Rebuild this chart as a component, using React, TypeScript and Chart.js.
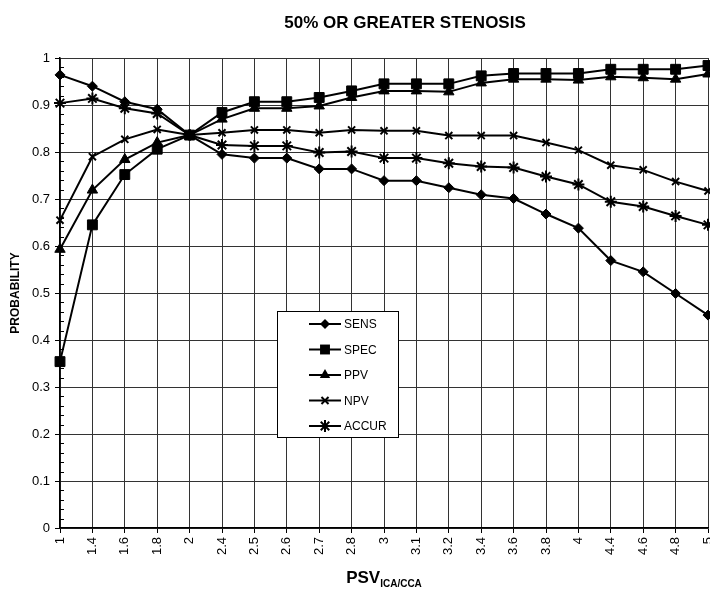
import React, { useEffect, useRef } from 'react';
import { Chart, registerables } from 'chart.js';

Chart.register(...registerables);

const chartTitle = '50% OR GREATER STENOSIS';
const yTitle = 'PROBABILITY';
const xTitleMain = 'PSV';
const xTitleSub = 'ICA/CCA';

const categories = ['1', '1.4', '1.6', '1.8', '2', '2.4', '2.5', '2.6', '2.7', '2.8', '3', '3.1', '3.2', '3.4', '3.6', '3.8', '4', '4.4', '4.6', '4.8', '5'];

const sens = [0.964, 0.940, 0.907, 0.891, 0.836, 0.795, 0.787, 0.787, 0.764, 0.764, 0.739, 0.739, 0.724, 0.709, 0.701, 0.668, 0.638, 0.569, 0.545, 0.499, 0.453];
const spec = [0.354, 0.645, 0.752, 0.806, 0.836, 0.884, 0.907, 0.907, 0.916, 0.930, 0.945, 0.945, 0.945, 0.962, 0.967, 0.967, 0.967, 0.976, 0.976, 0.976, 0.984];
const ppv = [0.593, 0.719, 0.784, 0.820, 0.836, 0.870, 0.893, 0.893, 0.898, 0.916, 0.930, 0.930, 0.928, 0.947, 0.955, 0.955, 0.953, 0.960, 0.958, 0.955, 0.966];
const npv = [0.655, 0.790, 0.827, 0.848, 0.836, 0.841, 0.847, 0.847, 0.841, 0.847, 0.845, 0.845, 0.835, 0.835, 0.835, 0.820, 0.804, 0.772, 0.762, 0.737, 0.717];
const accur = [0.904, 0.914, 0.893, 0.882, 0.836, 0.815, 0.813, 0.813, 0.799, 0.801, 0.787, 0.787, 0.776, 0.769, 0.767, 0.748, 0.731, 0.694, 0.684, 0.664, 0.645];

const seriesLabels = ['SENS', 'SPEC', 'PPV', 'NPV', 'ACCUR'];
const seriesStyles = ['rectRot', 'rect', 'triangle', 'crossRot', 'star'];
const seriesRadius = [5, 7, 6, 5, 6];

const yTicks = [0, 0.1, 0.2, 0.3, 0.4, 0.5, 0.6, 0.7, 0.8, 0.9, 1];

const FONT = '"Liberation Sans", Arial, Helvetica, sans-serif';

function drawMarker(ctx: CanvasRenderingContext2D, style: string, x: number, y: number, r: number) {
  ctx.beginPath();
  if (style === 'rectRot') {
    ctx.moveTo(x, y - r);
    ctx.lineTo(x + r, y);
    ctx.lineTo(x, y + r);
    ctx.lineTo(x - r, y);
    ctx.closePath();
    ctx.fill();
  } else if (style === 'rect') {
    const s = Math.SQRT1_2 * r;
    ctx.rect(x - s, y - s, 2 * s, 2 * s);
    ctx.fill();
  } else if (style === 'triangle') {
    const a = (2 * Math.PI) / 3;
    ctx.moveTo(x, y - r);
    ctx.lineTo(x + Math.sin(a) * r, y - Math.cos(a) * r);
    ctx.lineTo(x + Math.sin(2 * a) * r, y - Math.cos(2 * a) * r);
    ctx.closePath();
    ctx.fill();
  } else {
    const d = Math.SQRT1_2 * r;
    ctx.moveTo(x - d, y - d);
    ctx.lineTo(x + d, y + d);
    ctx.moveTo(x - d, y + d);
    ctx.lineTo(x + d, y - d);
    if (style === 'star') {
      ctx.moveTo(x, y - r);
      ctx.lineTo(x, y + r);
      ctx.moveTo(x - r, y);
      ctx.lineTo(x + r, y);
    }
    ctx.stroke();
  }
}

const overlayPlugin = {
  id: 'overlay',
  afterDraw(chart: any) {
    const { ctx, chartArea, scales } = chart;
    const ys = scales.y;
    ctx.save();
    ctx.strokeStyle = '#000';
    ctx.fillStyle = '#000';
    ctx.lineWidth = 1;
    // minor ticks on the y axis
    for (let i = 1; i < 50; i++) {
      if (i % 5 === 0) continue;
      const py = Math.round(ys.getPixelForValue(i / 50)) + 0.5;
      ctx.beginPath();
      ctx.moveTo(chartArea.left, py);
      ctx.lineTo(chartArea.left + 4, py);
      ctx.stroke();
    }
    // chart title
    ctx.font = `bold 17px ${FONT}`;
    ctx.textAlign = 'center';
    ctx.textBaseline = 'alphabetic';
    ctx.fillText(chartTitle, (chartArea.left + chartArea.right) / 2 + 21, 28);
    // x axis title with subscript
    const cx = (chartArea.left + chartArea.right) / 2;
    ctx.font = `bold 17px ${FONT}`;
    const w1 = ctx.measureText(xTitleMain).width;
    ctx.font = `bold 10px ${FONT}`;
    const w2 = ctx.measureText(xTitleSub).width;
    const sx = cx - (w1 + w2) / 2;
    ctx.textAlign = 'left';
    ctx.font = `bold 17px ${FONT}`;
    ctx.fillText(xTitleMain, sx, 583);
    ctx.font = `bold 10px ${FONT}`;
    ctx.fillText(xTitleSub, sx + w1, 587);
    // legend box
    const lx = 277, ly = 311, lw = 121, lh = 126;
    ctx.fillStyle = '#fff';
    ctx.fillRect(lx, ly, lw, lh);
    ctx.strokeStyle = '#000';
    ctx.lineWidth = 1;
    ctx.strokeRect(lx + 0.5, ly + 0.5, lw, lh);
    ctx.fillStyle = '#000';
    ctx.font = `12px ${FONT}`;
    ctx.textBaseline = 'middle';
    chart.data.datasets.forEach((ds: any, i: number) => {
      const ey = ly + 13 + i * 25.5;
      ctx.lineWidth = 2;
      ctx.beginPath();
      ctx.moveTo(lx + 32, ey);
      ctx.lineTo(lx + 64, ey);
      ctx.stroke();
      drawMarker(ctx, ds.pointStyle, lx + 48, ey, ds.pointRadius);
      ctx.fillText(ds.label, lx + 67, ey + 1);
    });
    ctx.restore();
  },
};

export default function App() {
  const canvasRef = useRef<HTMLCanvasElement | null>(null);

  useEffect(() => {
    const canvas = canvasRef.current;
    if (!canvas) return;
    const seriesData = [sens, spec, ppv, npv, accur];
    const chart = new Chart(canvas, {
      type: 'line',
      data: {
        labels: categories,
        datasets: seriesData.map((d, i) => ({
          label: seriesLabels[i],
          data: d,
          borderColor: '#000',
          backgroundColor: '#000',
          borderWidth: 2,
          pointStyle: seriesStyles[i] as any,
          pointRadius: seriesRadius[i],
          pointBackgroundColor: '#000',
          pointBorderColor: '#000',
          pointBorderWidth: seriesStyles[i] === 'crossRot' || seriesStyles[i] === 'star' ? 2 : 1,
          tension: 0,
          fill: false,
          clip: false as any,
        })),
      },
      options: {
        animation: false,
        responsive: false,
        maintainAspectRatio: false,
        layout: { autoPadding: false, padding: { top: 58, right: 2, bottom: 0, left: 0 } },
        plugins: {
          legend: { display: false },
          title: { display: false },
          tooltip: { enabled: false },
        },
        scales: {
          x: {
            type: 'category',
            offset: false,
            grid: { color: '#333', lineWidth: 1, tickLength: 5, tickColor: '#000' },
            border: { display: true, color: '#000', width: 1.5 },
            ticks: {
              color: '#000',
              font: { family: FONT, size: 13 },
              minRotation: 90,
              maxRotation: 90,
              autoSkip: false,
              padding: 4,
            },
            afterFit: (s: any) => {
              s.height = 62;
              s.paddingRight = 0;
              s.paddingLeft = 0;
            },
          },
          y: {
            min: 0,
            max: 1,
            grid: { color: '#333', lineWidth: 1, tickLength: 5, tickColor: '#000' },
            border: { display: true, color: '#000', width: 1.5 },
            afterBuildTicks: (s: any) => {
              s.ticks = yTicks.map((v) => ({ value: v }));
            },
            ticks: {
              color: '#000',
              font: { family: FONT, size: 13 },
              padding: 5,
              callback: (v: any) => String(Math.round(Number(v) * 10) / 10),
            },
            title: {
              display: true,
              text: yTitle,
              color: '#000',
              font: { family: FONT, size: 12, weight: 'bold' },
              padding: { top: 8, bottom: 0 },
            },
            afterFit: (s: any) => {
              s.width = 60;
            },
          },
        },
      },
      plugins: [overlayPlugin],
    });
    return () => chart.destroy();
  }, []);

  return (
    <div style={{ position: 'fixed', left: 0, top: 0, width: 710, height: 590, background: '#fff' }}>
      <canvas ref={canvasRef} width={710} height={590} style={{ display: 'block' }} />
    </div>
  );
}
